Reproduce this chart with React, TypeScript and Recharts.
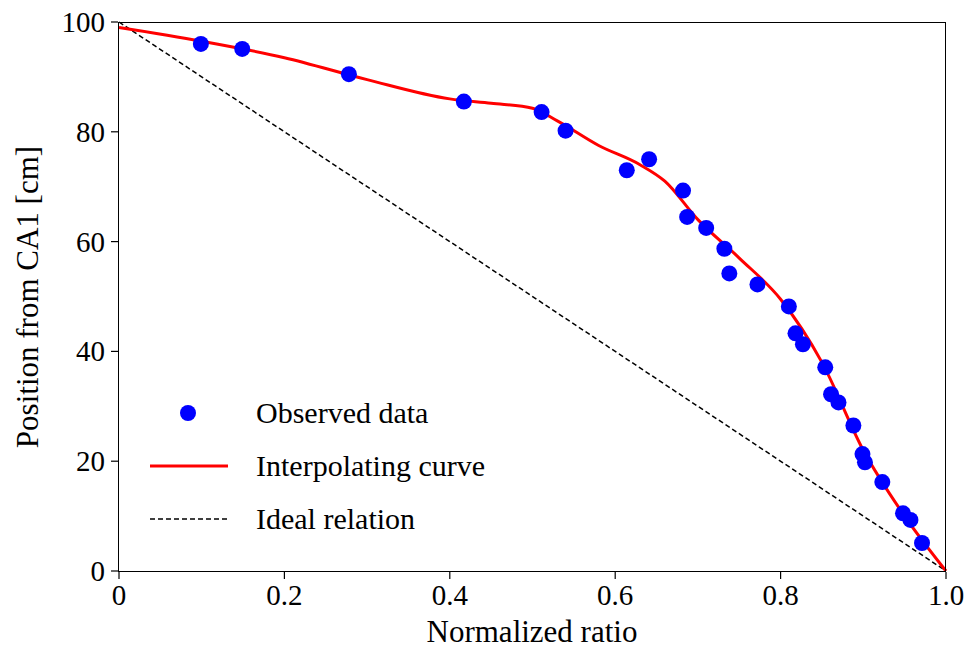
import React from "react";
import { ComposedChart, Line, Scatter, XAxis, YAxis } from "recharts";

const obsX = [0.099, 0.149, 0.278, 0.417, 0.511, 0.54, 0.614, 0.641, 0.682, 0.687, 0.71, 0.732, 0.738, 0.772, 0.81, 0.818, 0.827, 0.854, 0.861, 0.87, 0.888, 0.899, 0.902, 0.923, 0.948, 0.957, 0.971];
const obsY = [96, 95.1, 90.5, 85.5, 83.6, 80.2, 73, 75, 69.3, 64.5, 62.5, 58.7, 54.2, 52.2, 48.2, 43.3, 41.3, 37.1, 32.2, 30.7, 26.5, 21.3, 19.8, 16.2, 10.5, 9.3, 5.1];
const curveX = [0, 0.1, 0.2, 0.3, 0.4, 0.45, 0.5, 0.53, 0.58, 0.63, 0.66, 0.7, 0.75, 0.8, 0.85, 0.9, 0.95, 1.0];
const curveY = [99, 96.5, 93.5, 89.5, 86, 85.2, 84.3, 82, 77.5, 74, 71, 64, 57, 49.5, 38, 22, 10, 0];
const idealX = [0, 1];
const idealY = [100, 0];
const xTicks = [0, 0.2, 0.4, 0.6, 0.8, 1.0];
const yTicks = [0, 20, 40, 60, 80, 100];

const observed = obsX.map((x, i) => ({ x, y: obsY[i] }));
const curve = curveX.map((x, i) => ({ x, y: curveY[i] }));
const ideal = idealX.map((x, i) => ({ x, y: idealY[i] }));

const font = "Liberation Serif, serif";

const XTick = (p: any) => {
  const v = p.payload.value;
  const label = v === 0 ? "0" : v === 1 ? "1.0" : String(v);
  return (
    <g>
      <line x1={p.x} x2={p.x} y1={p.y} y2={p.y - 7} stroke="#000" strokeWidth={1.2} />
      <text x={p.x} y={p.y + 26} textAnchor="middle" fontFamily={font} fontSize={29} fill="#000">{label}</text>
    </g>
  );
};

const YTick = (p: any) => (
  <g>
    <line x1={p.x} x2={p.x + 7} y1={p.y} y2={p.y} stroke="#000" strokeWidth={1.2} />
    <text x={p.x - 6} y={p.y + 10} textAnchor="end" fontFamily={font} fontSize={29} fill="#000">{p.payload.value}</text>
  </g>
);

export default function App() {
  return (
    <div style={{ position: "fixed", left: 0, top: 0, width: 978, height: 659, background: "#fff" }}>
      <ComposedChart width={978} height={659} margin={{ left: 118, right: 32, top: 22, bottom: 87 }}>
        <XAxis type="number" dataKey="x" domain={[0, 1]} ticks={xTicks} tick={<XTick />} tickLine={false} axisLine={false} height={1} />
        <YAxis type="number" dataKey="y" domain={[0, 100]} ticks={yTicks} tick={<YTick />} tickLine={false} axisLine={false} width={1} />
        <Line data={ideal} dataKey="y" stroke="#000" strokeWidth={1.5} strokeDasharray="5 3" dot={false} isAnimationActive={false} />
        <Line data={curve} dataKey="y" type="monotone" stroke="#ff0000" strokeWidth={3} dot={false} isAnimationActive={false} />
        <Scatter data={observed} fill="#0000ff" isAnimationActive={false}
          shape={(p: any) => <circle cx={p.cx} cy={p.cy} r={8} fill="#0000ff" />} />
      </ComposedChart>
      <div style={{ position: "absolute", left: 118, top: 22, width: 828, height: 550, border: "1.5px solid #000", boxSizing: "border-box", pointerEvents: "none" }} />
      <div style={{ position: "absolute", left: 0, top: 614, width: 978, paddingLeft: 118, paddingRight: 32, boxSizing: "border-box", textAlign: "center", fontFamily: font, fontSize: 31 }}>Normalized ratio</div>
      <div style={{ position: "absolute", left: 28, top: 297, transform: "translate(-50%, -50%) rotate(-90deg)", whiteSpace: "nowrap", fontFamily: font, fontSize: 31 }}>Position from CA1 [cm]</div>
      <svg style={{ position: "absolute", left: 0, top: 0, pointerEvents: "none" }} width={978} height={659}>
        <circle cx={188} cy={413} r={8} fill="#0000ff" />
        <line x1={150} x2={228} y1={466} y2={466} stroke="#ff0000" strokeWidth={3} />
        <line x1={150} x2={228} y1={519} y2={519} stroke="#000" strokeWidth={1.5} strokeDasharray="5 3" />
        <text x={256} y={423} fontFamily={font} fontSize={30}>Observed data</text>
        <text x={256} y={476} fontFamily={font} fontSize={30}>Interpolating curve</text>
        <text x={256} y={529} fontFamily={font} fontSize={30}>Ideal relation</text>
      </svg>
    </div>
  );
}
